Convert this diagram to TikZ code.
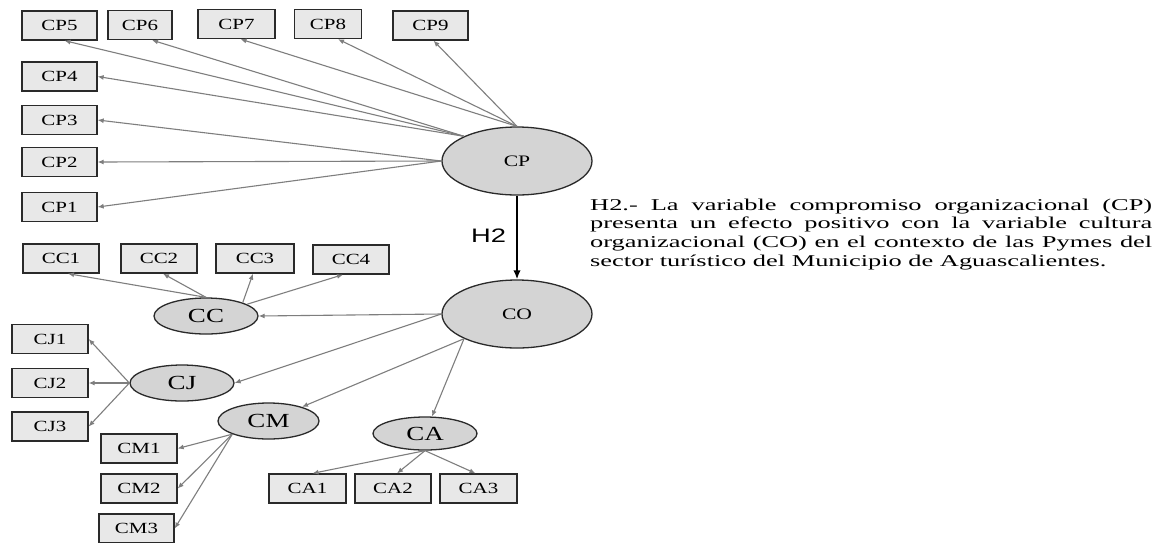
\documentclass[tikz,border=0pt]{standalone}
\usepackage{fontspec}
\setmainfont{Liberation Serif}
\newfontfamily\boxfont[FakeStretch=1.35]{Liberation Serif}
\newfontfamily\parafont[FakeStretch=1.6]{Liberation Serif}
\newfontfamily\hfont[FakeStretch=1.4]{Liberation Sans}
\usetikzlibrary{shapes.geometric,arrows.meta}
\definecolor{boxgray}{HTML}{E8E8E8}
\definecolor{ellgray}{HTML}{D4D4D4}
\definecolor{linegray}{HTML}{7E7E7E}
\definecolor{edgedark}{HTML}{2A2A2A}
\begin{document}
\begin{tikzpicture}[x=1pt,y=-1pt,
  ind/.style={draw=edgedark, fill=boxgray, line width=1.3pt,
    minimum width=75pt, minimum height=29pt, inner sep=0pt,
    font=\boxfont\fontsize{15.5}{15.5}\selectfont},
  lat/.style={ellipse, draw=edgedark, fill=ellgray, line width=1.3pt, inner sep=0pt},
  bigl/.style={lat, minimum width=104pt, minimum height=36pt,
    font=\boxfont\fontsize{20}{20}\selectfont},
  mainl/.style={lat, minimum width=150pt, minimum height=68pt,
    font=\boxfont\fontsize{16}{16}\selectfont},
  load/.style={draw=linegray, line width=1.1pt, -{Latex[length=6pt,width=5pt]}},
  hyp/.style={draw=black, line width=2.5pt, -{Latex[length=9pt,width=7.5pt]}}]
\useasboundingbox (0,0) rectangle (1164,542);
\fill[white] (0,0) rectangle (1164,542);

% latent constructs
\node[mainl] (CP) at (517,161) {CP};
\node[mainl] (CO) at (517,314) {CO};
\node[bigl] (CC) at (206,316) {CC};
\node[bigl] (CJ) at (182,383) {CJ};
\node[bigl, minimum width=101pt] (CM) at (268.5,421) {CM};
\node[bigl, minimum height=33pt] (CA) at (425,433.5) {CA};

% indicators of CP
\node[ind] (CP5) at (59.5,25.5) {CP5};
\node[ind, minimum width=64pt] (CP6) at (140,25) {CP6};
\node[ind, minimum width=77pt] (CP7) at (236.5,24) {CP7};
\node[ind, minimum width=67pt] (CP8) at (328,24) {CP8};
\node[ind] (CP9) at (430.5,25.5) {CP9};
\node[ind] (CP4) at (59.5,76.5) {CP4};
\node[ind] (CP3) at (59.5,120) {CP3};
\node[ind] (CP2) at (59.5,162) {CP2};
\node[ind] (CP1) at (59.5,207) {CP1};

% indicators of CC
\node[ind, minimum width=76pt] (CC1) at (61,258.5) {CC1};
\node[ind, minimum width=76pt] (CC2) at (159,258.5) {CC2};
\node[ind, minimum width=78pt] (CC3) at (255,258.5) {CC3};
\node[ind, minimum width=76pt] (CC4) at (351,259.5) {CC4};

% indicators of CJ
\node[ind, minimum width=76pt] (CJ1) at (50,339) {CJ1};
\node[ind, minimum width=76pt] (CJ2) at (50,383) {CJ2};
\node[ind, minimum width=76pt] (CJ3) at (50,426.5) {CJ3};

% indicators of CM
\node[ind, minimum width=76pt] (CM1) at (139,448.5) {CM1};
\node[ind, minimum width=76pt] (CM2) at (139,488.5) {CM2};
\node[ind] (CM3) at (136.5,528.5) {CM3};

% indicators of CA
\node[ind, minimum width=77pt] (CA1) at (307.5,488.5) {CA1};
\node[ind, minimum width=76pt] (CA2) at (393,488.5) {CA2};
\node[ind, minimum width=77pt] (CA3) at (478.5,488.5) {CA3};

% CP loadings
\draw[load] (CP.155) -- ([xshift=5pt]CP5.south);
\draw[load] (CP.155) -- ([xshift=12pt]CP6.south);
\draw[load] (CP.155) -- (CP4.east);
\draw[load] (CP.north) -- ([xshift=4pt]CP7.south);
\draw[load] (CP.north) -- ([xshift=10pt]CP8.south);
\draw[load] (CP.north) -- ([xshift=3pt]CP9.south);
\draw[load] (CP.west) -- (CP3.east);
\draw[load] (CP.west) -- (CP2.east);
\draw[load] (CP.west) -- (CP1.east);

% hypothesis H2
\draw[hyp] (CP) -- (CO);
\node[font=\hfont\fontsize{19.5}{19.5}\selectfont, inner sep=0pt] (H2) at (488.5,236) {H2};

% CO dimensions
\draw[load] (CO.west) -- (CC.east);
\draw[load] (CO.west) -- (CJ.east);
\draw[load] (CO.205) -- (CM);
\draw[load] (CO.205) -- (CA);

% CC loadings
\draw[load] (CC.north) -- ([xshift=7pt]CC1.south);
\draw[load] (CC.north) -- ([xshift=4pt]CC2.south);
\draw[load] (CC.20) -- ([xshift=-2pt]CC3.south);
\draw[load] (CC.16) -- ([xshift=-8pt]CC4.south);

% CJ loadings
\draw[load] (CJ.west) -- (CJ1.east);
\draw[load] (CJ.west) -- (CJ2.east);
\draw[load] (CJ.west) -- (CJ3.east);

% CM loadings
\draw[load] (CM.200) -- (CM1.east);
\draw[load] (CM.200) -- (CM2.east);
\draw[load] (CM.200) -- (CM3.east);

% CA loadings
\draw[load] (CA.south) -- ([xshift=5pt]CA1.north);
\draw[load] (CA.south) -- ([xshift=4pt]CA2.north);
\draw[load] (CA.south) -- ([xshift=-3pt]CA3.north);

% hypothesis statement
\node[anchor=base west, text width=562pt, inner sep=0pt, align=justify,
  font=\parafont\fontsize{16.5}{18.7}\selectfont] (stmt) at (590,210)
  {H2.- La variable compromiso organizacional (CP)\linebreak
   presenta un efecto positivo con la variable cultura\linebreak
   organizacional (CO) en el contexto de las Pymes del\linebreak
   sector turístico del Municipio de Aguascalientes.};
\end{tikzpicture}
\end{document}
